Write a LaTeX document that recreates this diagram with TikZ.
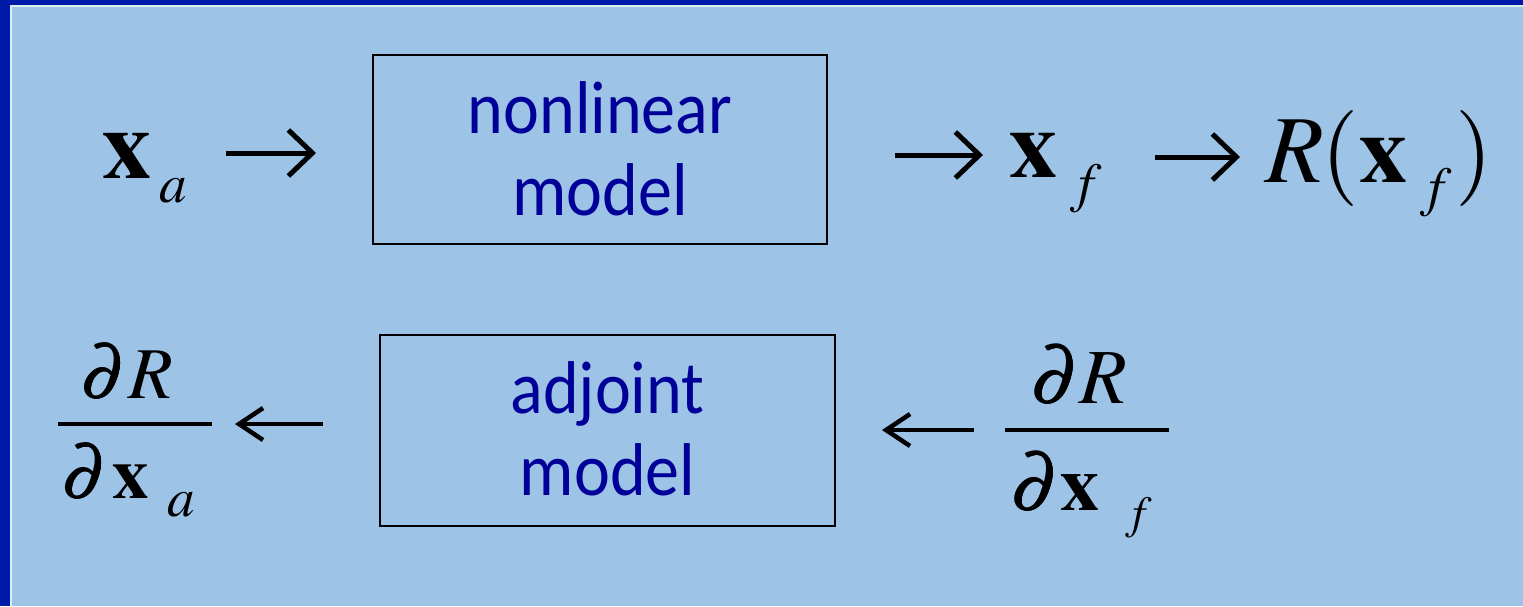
\documentclass[tikz,border=0pt]{standalone}
\usepackage{mathptmx}
\usepackage[no-math]{fontspec}
\usetikzlibrary{arrows.meta}
\newfontfamily\cbr{Carlito}
\definecolor{frame}{HTML}{0019A8}
\definecolor{bg}{HTML}{9DC3E6}
\definecolor{edge}{HTML}{D8F0E8}
\definecolor{txt}{HTML}{000099}
\newcommand{\SZ}[1]{\fontsize{#1}{#1}\selectfont}
\newcommand{\putat}[3]{\rlap{\kern#1pt\raisebox{#2pt}{#3}}}
\newcommand{\vs}[1]{\scalebox{1}[1.1]{#1}}
\newcommand{\bpd}{\rlap{$\partial$}\rlap{\kern1.3pt$\partial$}\rlap{\kern0.65pt\raisebox{0.7pt}{$\partial$}}\kern0.65pt\raisebox{-0.5pt}{$\partial$}}
\tikzset{
  mathtxt/.style={inner sep=0pt, outer sep=0pt, anchor=base west},
  modelbox/.style={draw=black, line width=2pt, inner sep=0pt, text=txt, align=center,
    font=\cbr\fontsize{68}{82}\selectfont, text depth=0pt},
  arrT/.style={line width=5pt, -{Straight Barb[length=24pt,width=46pt]}},
  arrB/.style={line width=4.5pt, -{Straight Barb[length=24pt,width=32pt]}},
  fracbar/.style={line width=4pt}
}
\begin{document}
\begin{tikzpicture}[x=1pt,y=-1pt]
\useasboundingbox (0,0) rectangle (1523,606);
\fill[frame] (0,0) rectangle (1523,606);
\fill[edge] (10,5) rectangle (1523,606);
\fill[bg] (11.5,6.5) rectangle (1523,606);

% top row
\node[mathtxt] (xa) at (102,178) {\SZ{98}\putat{0}{0}{$\mathbf{x}$}\putat{57}{-24}{\SZ{55}$a$}};
\node[modelbox, minimum width=454pt, minimum height=189pt, text height=131pt] (nl) at (600,149.5) {\vs{nonlinear}\\\vs{model}};
\node[mathtxt] (xf) at (1009,177) {\SZ{96}\putat{0}{0}{$\mathbf{x}$}\putat{61}{-24.5}{\SZ{55}$f$}};
\node[mathtxt] (Rxf) at (1265,182) {\SZ{96}\putat{0}{0}{$R$}\putat{56}{0}{$($}\putat{94}{0}{$\mathbf{x}$}\putat{155}{-23.5}{\SZ{55}$f$}\putat{190}{0}{$)$}};

\coordinate (a1s) at (226,153); \coordinate (a1e) at (316,153);
\coordinate (a2s) at (895,155); \coordinate (a2e) at (983,155);
\coordinate (a3s) at (1155,157); \coordinate (a3e) at (1240,157);
\draw[arrT] (a1s) -- (a1e);
\draw[arrT] (a2s) -- (a2e);
\draw[arrT] (a3s) -- (a3e);

% bottom row
\node[mathtxt] (dRan) at (80,398) {\SZ{73}\putat{0}{0}{\bpd}\putat{48}{0}{$R$}};
\node[mathtxt] (dRad) at (61,498) {\SZ{73}\putat{0}{0}{\bpd}\putat{50.5}{0}{$\mathbf{x}$}\putat{106}{-18}{\SZ{55}$a$}};
\draw[fracbar] (58,424) -- (212,424);

\node[modelbox, minimum width=455pt, minimum height=191pt, text height=129pt] (adj) at (607.5,430.5) {\vs{adjoint}\\\vs{model}};

\node[mathtxt] (dRfn) at (1030,403) {\SZ{78}\putat{0}{0}{\bpd}\putat{49}{0}{$R$}};
\node[mathtxt] (dRfd) at (1010,510) {\SZ{78}\putat{0}{0}{\bpd}\putat{50}{0}{$\mathbf{x}$}\putat{115}{-18.5}{\SZ{46}$f$}};
\draw[fracbar] (1005,430) -- (1169,430);

\coordinate (a4s) at (323,424); \coordinate (a4e) at (235,424);
\coordinate (a5s) at (974,430); \coordinate (a5e) at (882,430);
\draw[arrB] (a4s) -- (a4e);
\draw[arrB] (a5s) -- (a5e);
\end{tikzpicture}
\end{document}
